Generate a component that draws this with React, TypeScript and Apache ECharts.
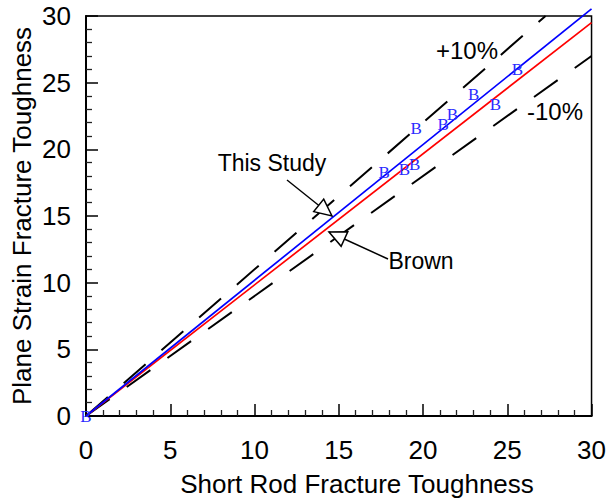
import React, { useEffect, useRef } from "react";
import * as echarts from "echarts";

// Measured points (Short Rod vs Plane Strain)
const pointX = [0, 17.7, 18.9, 19.5, 19.6, 21.2, 21.75, 23.0, 24.3, 25.6];
const pointY = [0, 18.3, 18.5, 18.9, 21.6, 21.9, 22.6, 24.1, 23.4, 26.0];

// Fit lines (endpoints)
const thisStudyX = [0, 30];
const thisStudyY = [0, 30.54];
const brownX = [0, 30];
const brownY = [0, 29.5];
const plus10X = [0, 27.27];
const plus10Y = [0, 30];
const minus10X = [0, 30];
const minus10Y = [0, 27];

const axisTicks = [0, 5, 10, 15, 20, 25, 30];

const zip = (a: number[], b: number[]) => a.map((v, i) => [v, b[i]]);

function arrowHead(tip: number[], from: number[], len: number, half: number) {
  const dx = from[0] - tip[0];
  const dy = from[1] - tip[1];
  const l = Math.sqrt(dx * dx + dy * dy);
  const ux = dx / l;
  const uy = dy / l;
  const bx = tip[0] + ux * len;
  const by = tip[1] + uy * len;
  const px = -uy;
  const py = ux;
  return [
    [tip[0], tip[1]],
    [bx + px * half, by + py * half],
    [bx - px * half, by - py * half],
  ];
}

export default function App() {
  const ref = useRef<HTMLDivElement>(null);
  useEffect(() => {
    if (!ref.current) return;
    const chart = echarts.init(ref.current, undefined, { renderer: "svg" });
    const font = "Liberation Sans, Arial, sans-serif";
    const axisCommon = {
      type: "value" as const,
      min: axisTicks[0],
      max: axisTicks[axisTicks.length - 1],
      interval: 5,
      splitLine: { show: false },
      axisLine: { show: true, lineStyle: { color: "#000", width: 2 } },
      axisTick: { show: true, inside: true, length: 12, lineStyle: { color: "#000", width: 1.5 } },
      minorTick: { show: true, splitNumber: 5, length: 6, lineStyle: { color: "#222", width: 1.3 } },
    };
    const tsTip = [332, 216];
    const tsFrom = [287, 180];
    const brTip = [329, 232];
    const brFrom = [388, 259];
    chart.setOption({
      animation: false,
      backgroundColor: "#fff",
      grid: {
        left: 86,
        right: 17,
        top: 16,
        bottom: 86,
        show: true,
        borderColor: "#000",
        borderWidth: 1.5,
        containLabel: false,
      },
      xAxis: {
        ...axisCommon,
        axisLabel: { margin: 21, fontSize: 26, color: "#000", fontFamily: font },
      },
      yAxis: {
        ...axisCommon,
        axisLabel: { margin: 15, fontSize: 26, color: "#000", fontFamily: font },
      },
      series: [
        {
          name: "+10%",
          type: "line",
          data: zip(plus10X, plus10Y),
          symbol: "none",
          lineStyle: { color: "#000", width: 2, type: [29, 21] },
          z: 2,
        },
        {
          name: "-10%",
          type: "line",
          data: zip(minus10X, minus10Y),
          symbol: "none",
          lineStyle: { color: "#000", width: 2, type: [29, 21] },
          z: 2,
        },
        {
          name: "Brown",
          type: "line",
          data: zip(brownX, brownY),
          symbol: "none",
          clip: false,
          lineStyle: { color: "#ff0000", width: 1.7 },
          z: 3,
        },
        {
          name: "This Study",
          type: "line",
          data: zip(thisStudyX, thisStudyY),
          symbol: "none",
          clip: false,
          lineStyle: { color: "#0000ff", width: 1.7 },
          z: 4,
        },
        {
          name: "Data",
          type: "scatter",
          data: zip(pointX, pointY),
          symbol: "circle",
          symbolSize: 2,
          itemStyle: { color: "rgba(255,255,255,0)" },
          clip: false,
          label: {
            show: true,
            position: "inside",
            formatter: "B",
            color: "#2a2aff",
            opacity: 1,
            textBorderWidth: 0,
            fontSize: 17,
            fontFamily: "Liberation Serif, Times New Roman, serif",
          },
          z: 5,
        },
      ],
      graphic: [
        {
          type: "text",
          x: 357,
          y: 484,
          style: {
            text: "Short Rod Fracture Toughness",
            fontSize: 26,
            fontFamily: font,
            fill: "#000",
            align: "center",
            verticalAlign: "middle",
          },
        },
        {
          type: "text",
          x: 22,
          y: 216,
          rotation: Math.PI / 2,
          style: {
            text: "Plane Strain Fracture Toughness",
            fontSize: 26,
            fontFamily: font,
            fill: "#000",
            align: "center",
            verticalAlign: "middle",
          },
        },
        {
          type: "text",
          x: 467,
          y: 50,
          style: { text: "+10%", fontSize: 24, fontFamily: font, fill: "#000", align: "center", verticalAlign: "middle" },
        },
        {
          type: "text",
          x: 555,
          y: 111,
          style: { text: "-10%", fontSize: 24, fontFamily: font, fill: "#000", align: "center", verticalAlign: "middle" },
        },
        {
          type: "text",
          x: 272,
          y: 163,
          style: { text: "This Study", fontSize: 23, fontFamily: font, fill: "#000", align: "center", verticalAlign: "middle" },
        },
        {
          type: "text",
          x: 421,
          y: 261,
          style: { text: "Brown", fontSize: 23, fontFamily: font, fill: "#000", align: "center", verticalAlign: "middle" },
        },
        {
          type: "line",
          shape: { x1: tsFrom[0], y1: tsFrom[1], x2: tsTip[0], y2: tsTip[1] },
          style: { stroke: "#000", lineWidth: 1.5 },
          z: 10,
        },
        {
          type: "polygon",
          shape: { points: arrowHead(tsTip, tsFrom, 17, 8) },
          style: { fill: "#fff", stroke: "#000", lineWidth: 1.5 },
          z: 11,
        },
        {
          type: "line",
          shape: { x1: brFrom[0], y1: brFrom[1], x2: brTip[0], y2: brTip[1] },
          style: { stroke: "#000", lineWidth: 1.5 },
          z: 10,
        },
        {
          type: "polygon",
          shape: { points: arrowHead(brTip, brFrom, 17, 8) },
          style: { fill: "#fff", stroke: "#000", lineWidth: 1.5 },
          z: 11,
        },
      ],
    });
    return () => chart.dispose();
  }, []);
  return <div ref={ref} style={{ width: 609, height: 502, position: "absolute", left: 0, top: 0 }} />;
}
